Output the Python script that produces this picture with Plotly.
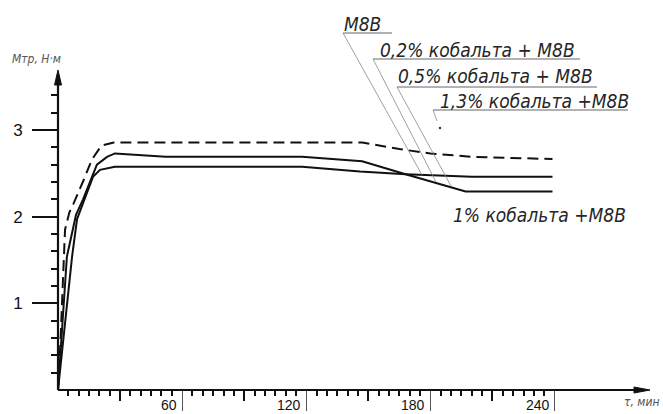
import numpy as np
import plotly.graph_objects as go

# ---- data ----
t_dashed = [0, 1.2, 2.4, 3.4, 5.5, 7.5, 12, 16.4, 21, 27, 147, 165, 180, 200, 239]
m_dashed = [0, 0.55, 1.27, 1.85, 2.05, 2.15, 2.4, 2.66, 2.82, 2.855, 2.855, 2.78, 2.73, 2.69, 2.665]

t_upper = [0, 4.3, 8.7, 12.1, 18.8, 23.7, 27.5, 52, 118, 147, 168, 188, 197, 239]
m_upper = [0, 1.54, 2.02, 2.2, 2.6, 2.69, 2.73, 2.69, 2.69, 2.64, 2.49, 2.35, 2.29, 2.29]

t_lower = [0, 6.8, 9.2, 16.9, 20.3, 27.5, 118, 146, 168, 200, 239]
m_lower = [0, 1.54, 1.97, 2.46, 2.54, 2.575, 2.575, 2.52, 2.49, 2.46, 2.46]

x_major = [60, 120, 180, 240]
x_mid = [30, 90, 150, 210]
y_major = [1, 2, 3]
x_tick_labels = ["60", "120", "180", "240"]

labels = ["M8B", "0,2% кобальта + M8B", "0,5% кобальта + M8B", "1,3% кобальта +M8B"]
label_1pct = "1% кобальта +M8B"

# ---- geometry helpers (pixel -> paper) ----
L, R_M, T_M, B_M = 58, 5, 66, 24
W, H = 663, 414
XMAX = 290.0
pw = W - L - R_M
ph = H - T_M - B_M
YMAX = ph / 86.67
def PX(px):
    return (px - L) / pw
def PY(py):
    return (H - B_M - py) / ph

fig = go.Figure()
line_col = "#111111"
fig.add_trace(go.Scatter(x=t_dashed, y=m_dashed, mode="lines",
                         line=dict(color=line_col, width=2, dash="11px,6px"), showlegend=False))
fig.add_trace(go.Scatter(x=t_upper, y=m_upper, mode="lines",
                         line=dict(color=line_col, width=2), showlegend=False))
fig.add_trace(go.Scatter(x=t_lower, y=m_lower, mode="lines",
                         line=dict(color=line_col, width=2), showlegend=False))
# dummy trace for the overlay axis with medium ticks
fig.add_trace(go.Scatter(x=[None], y=[None], xaxis="x2", yaxis="y", showlegend=False))

minor_x = [v for v in np.arange(5, 241, 5) if v % 30 != 0]
minor_y = [round(v, 1) for v in np.arange(0.2, 3.41, 0.2) if abs(v - round(v)) > 1e-6]

fig.update_layout(
    width=W, height=H, margin=dict(l=L, r=R_M, t=T_M, b=B_M),
    plot_bgcolor="white", paper_bgcolor="white",
    xaxis=dict(range=[0, XMAX], showgrid=False, zeroline=False, showline=False,
               tickmode="array", tickvals=x_major, ticks="outside", ticklen=20,
               tickwidth=1.3, tickcolor="#555", showticklabels=False,
               minor=dict(tickmode="array", tickvals=minor_x, ticks="outside",
                          ticklen=5, tickwidth=2, tickcolor="#111")),
    xaxis2=dict(range=[0, XMAX], overlaying="x", anchor="y", side="bottom",
                showgrid=False, zeroline=False, showline=False,
                tickmode="array", tickvals=x_mid, ticks="outside", ticklen=10,
                tickwidth=2, tickcolor="#111", showticklabels=False),
    yaxis=dict(range=[0, YMAX], showgrid=False, zeroline=False, showline=False,
               tickmode="array", tickvals=y_major, ticks="outside", ticklen=25,
               tickwidth=2, tickcolor="#111", ticklabelstandoff=6,
               tickfont=dict(family="Liberation Sans, Arial", size=17, color="#111"),
               minor=dict(tickmode="array", tickvals=minor_y, ticks="outside",
                          ticklen=6, tickwidth=2, tickcolor="#111")),
)

shapes = []
ann = []
# axes lines
shapes.append(dict(type="line", xref="paper", yref="paper", x0=0, y0=0, x1=PX(640), y1=0,
                   line=dict(color="#111", width=2.2)))
shapes.append(dict(type="line", xref="paper", yref="paper", x0=0, y0=0, x1=0, y1=PY(80),
                   line=dict(color="#111", width=2.2)))
# arrowheads (pixel-sized, anchored at axis ends)
shapes.append(dict(type="path", xref="paper", yref="paper", xsizemode="pixel", ysizemode="pixel",
                   xanchor=PX(650), yanchor=0, path="M 0 0 L -16 3 L -16 -3 Z",
                   fillcolor="#111", line=dict(color="#111", width=1)))
shapes.append(dict(type="path", xref="paper", yref="paper", xsizemode="pixel", ysizemode="pixel",
                   xanchor=0, yanchor=PY(70), path="M 0 0 L -3.5 -15 L 3.5 -15 Z",
                   fillcolor="#111", line=dict(color="#111", width=1)))

# x tick labels
for v, s in zip(x_major, x_tick_labels):
    ann.append(dict(x=v, y=0, xref="x", yref="paper", text=s, showarrow=False,
                    xanchor="right", yanchor="top", xshift=-3, yshift=-5,
                    font=dict(family="Liberation Sans, Arial", size=14, color="#111")))

ital = "DejaVu Sans Condensed, DejaVu Sans, Liberation Sans Narrow, sans-serif"
# axis titles
ann.append(dict(x=PX(10), y=PY(59), xref="paper", yref="paper", text="<i>Мтр, Н·м</i>",
                showarrow=False, xanchor="left", yanchor="middle",
                font=dict(family=ital, size=12, color="#555")))
ann.append(dict(x=PX(622), y=PY(402), xref="paper", yref="paper", text="<i>τ, мин</i>",
                showarrow=False, xanchor="left", yanchor="middle",
                font=dict(family=ital, size=12, color="#555")))

# curve labels with underlines and leaders
lab_pos = [(342, 24), (378, 50), (396, 75.5), (438, 100.5)]
underlines = [(343, 392, 33), (373, 580, 59), (397, 597, 87), (433, 628, 110)]
leaders = [((343, 33), (422, 175)), ((373, 59), (436, 182)), ((397, 87), (451, 186)),
           ((433, 110), (437, 121))]
for s, (px, py) in zip(labels, lab_pos):
    ann.append(dict(x=PX(px), y=PY(py), xref="paper", yref="paper", text="<i>" + s + "</i>",
                    showarrow=False, xanchor="left", yanchor="middle",
                    font=dict(family=ital, size=19, color="#262626")))
for (a, b, py) in underlines:
    shapes.append(dict(type="line", xref="paper", yref="paper", x0=PX(a), x1=PX(b),
                       y0=PY(py), y1=PY(py), line=dict(color="#666", width=1)))
for (p0, p1) in leaders:
    shapes.append(dict(type="line", xref="paper", yref="paper", x0=PX(p0[0]), y0=PY(p0[1]),
                       x1=PX(p1[0]), y1=PY(p1[1]), line=dict(color="#888", width=0.8)))
shapes.append(dict(type="circle", xref="paper", yref="paper", xsizemode="pixel",
                   ysizemode="pixel", xanchor=PX(440), yanchor=PY(128),
                   x0=-1.2, x1=1.2, y0=-1.2, y1=1.2, fillcolor="#333", line=dict(width=0)))
ann.append(dict(x=PX(451), y=PY(215), xref="paper", yref="paper",
                text="<i>" + label_1pct + "</i>", showarrow=False, xanchor="left",
                yanchor="middle", font=dict(family=ital, size=19, color="#262626")))

fig.update_layout(shapes=shapes, annotations=ann)
fig.write_html("out.html")
